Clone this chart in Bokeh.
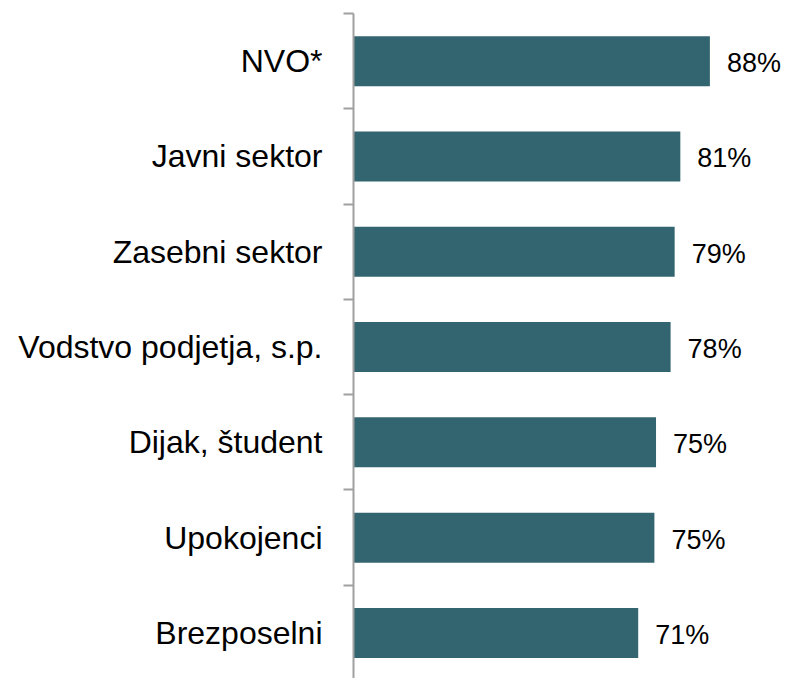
from bokeh.plotting import figure
from bokeh.models import ColumnDataSource, Range1d, FixedTicker, LinearAxis
from bokeh.core.properties import value
from bokeh.embed import file_html
from bokeh.resources import INLINE

categories = ["NVO*", "Javni sektor", "Zasebni sektor", "Vodstvo podjetja, s.p.",
              "Dijak, študent", "Upokojenci", "Brezposelni"]
shares = [88.0, 80.7, 79.3, 78.3, 74.7, 74.3, 70.3]
share_labels = ["88%", "81%", "79%", "78%", "75%", "75%", "71%"]

n = len(categories)
ypos = [n - i - 0.5 for i in range(n)]
boundaries = [float(k) for k in range(n + 1)]

src = ColumnDataSource(dict(cat=categories, share=shares, lab=share_labels, y=ypos))

p = figure(width=785, height=678, output_backend="svg", toolbar_location=None,
           x_range=Range1d(0, 106.67), y_range=Range1d(0.022, 7.0),
           min_border_left=353, min_border_right=0, min_border_top=13, min_border_bottom=0,
           x_axis_location=None, y_axis_location=None)

axis_gray = "#a0a0a0"
yaxis = LinearAxis(ticker=FixedTicker(ticks=ypos, minor_ticks=boundaries),
                   major_label_overrides={y: c for y, c in zip(ypos, categories)})
yaxis.axis_line_color = axis_gray
yaxis.axis_line_width = 2
yaxis.major_tick_line_color = None
yaxis.major_tick_out = 0
yaxis.major_tick_in = 0
yaxis.minor_tick_line_color = axis_gray
yaxis.minor_tick_line_width = 2
yaxis.minor_tick_out = 10
yaxis.minor_tick_in = 0
yaxis.major_label_standoff = 21
yaxis.major_label_text_font = "Liberation Sans"
yaxis.major_label_text_font_size = "32px"
yaxis.major_label_text_color = "black"
p.add_layout(yaxis, "left")

p.hbar(y="y", right="share", left=0, height=0.525, source=src,
       fill_color="#336570", line_color=None)

p.text(x="share", y="y", text="lab", source=src, x_offset=17, y_offset=2,
       text_align="left", text_baseline="middle",
       text_font=value("Liberation Sans"), text_font_size="27px", text_color="black")

p.grid.visible = False
p.outline_line_color = None

open("out.html", "w").write(file_html(p, INLINE))
